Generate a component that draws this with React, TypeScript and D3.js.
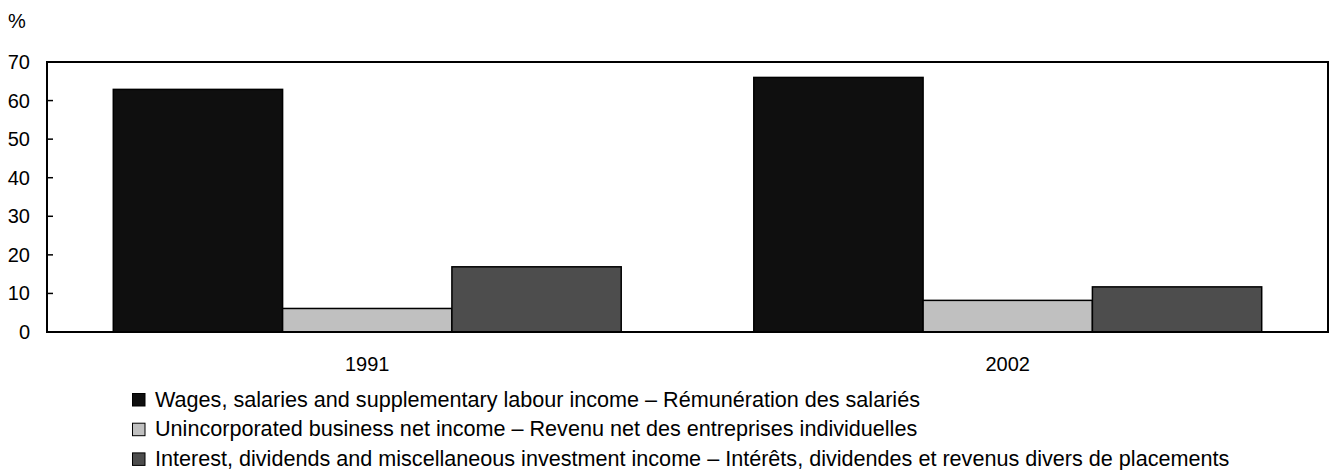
import React from "react";
import * as d3 from "d3";

const categories = ["1991", "2002"];
const seriesNames = [
  "Wages, salaries and supplementary labour income – Rémunération des salariés",
  "Unincorporated business net income – Revenu net des entreprises individuelles",
  "Interest, dividends and miscellaneous investment income – Intérêts, dividendes et revenus divers de placements",
];
const wages = [62.9, 66.0];
const business = [6.1, 8.2];
const investment = [16.9, 11.7];
const yTicks = [0, 10, 20, 30, 40, 50, 60, 70];
const colors = ["#0f0f0f", "#c0c0c0", "#4d4d4d"];

const W = 1331;
const H = 470;
const left = 47;
const right = 1328;
const top = 62;
const bottom = 332;
const FONT = "'Liberation Sans', Arial, sans-serif";

export default function App() {
  const series = [wages, business, investment];
  const x = d3.scaleBand<string>().domain(categories).range([left, right]).paddingInner(0.207).paddingOuter(0.1035);
  const xs = d3.scaleBand<number>().domain([0, 1, 2]).range([0, x.bandwidth()]).padding(0);
  const y = d3.scaleLinear().domain([0, 70]).range([bottom, top]);

  return (
    <svg width={W} height={H} style={{ position: "absolute", left: 0, top: 0, background: "#fff" }}>
      <text x={8} y={28} fontFamily={FONT} fontSize={20} fill="#000">%</text>
      {categories.map((c, ci) =>
        series.map((s, si) => (
          <rect
            key={c + si}
            x={(x(c) as number) + (xs(si) as number)}
            y={y(s[ci])}
            width={xs.bandwidth()}
            height={y(0) - y(s[ci])}
            fill={colors[si]}
            stroke="#000"
            strokeWidth={1.5}
          />
        ))
      )}
      <rect x={left} y={top} width={right - left} height={bottom - top} fill="none" stroke="#000" strokeWidth={2} />
      {yTicks.map((t) => (
        <g key={t}>
          {t > 0 && t < 70 && <line x1={left} x2={left + 6} y1={y(t)} y2={y(t)} stroke="#000" strokeWidth={1.5} />}
          <text x={30} y={y(t)} dy="0.35em" textAnchor="end" fontFamily={FONT} fontSize={20} fill="#000">
            {t}
          </text>
        </g>
      ))}
      {categories.map((c) => (
        <text key={c} x={(x(c) as number) + x.bandwidth() / 2} y={371} textAnchor="middle" fontFamily={FONT} fontSize={20} fill="#000">
          {c}
        </text>
      ))}
      {seriesNames.map((n, i) => (
        <g key={n} transform={`translate(132, ${393 + i * 29.7})`}>
          <rect x={0.5} y={0.5} width={12.5} height={12.5} fill={colors[i]} stroke="#000" strokeWidth={1} />
          <text x={23} y={13.5} fontFamily={FONT} fontSize={21.6} fill="#000">{n}</text>
        </g>
      ))}
    </svg>
  );
}
